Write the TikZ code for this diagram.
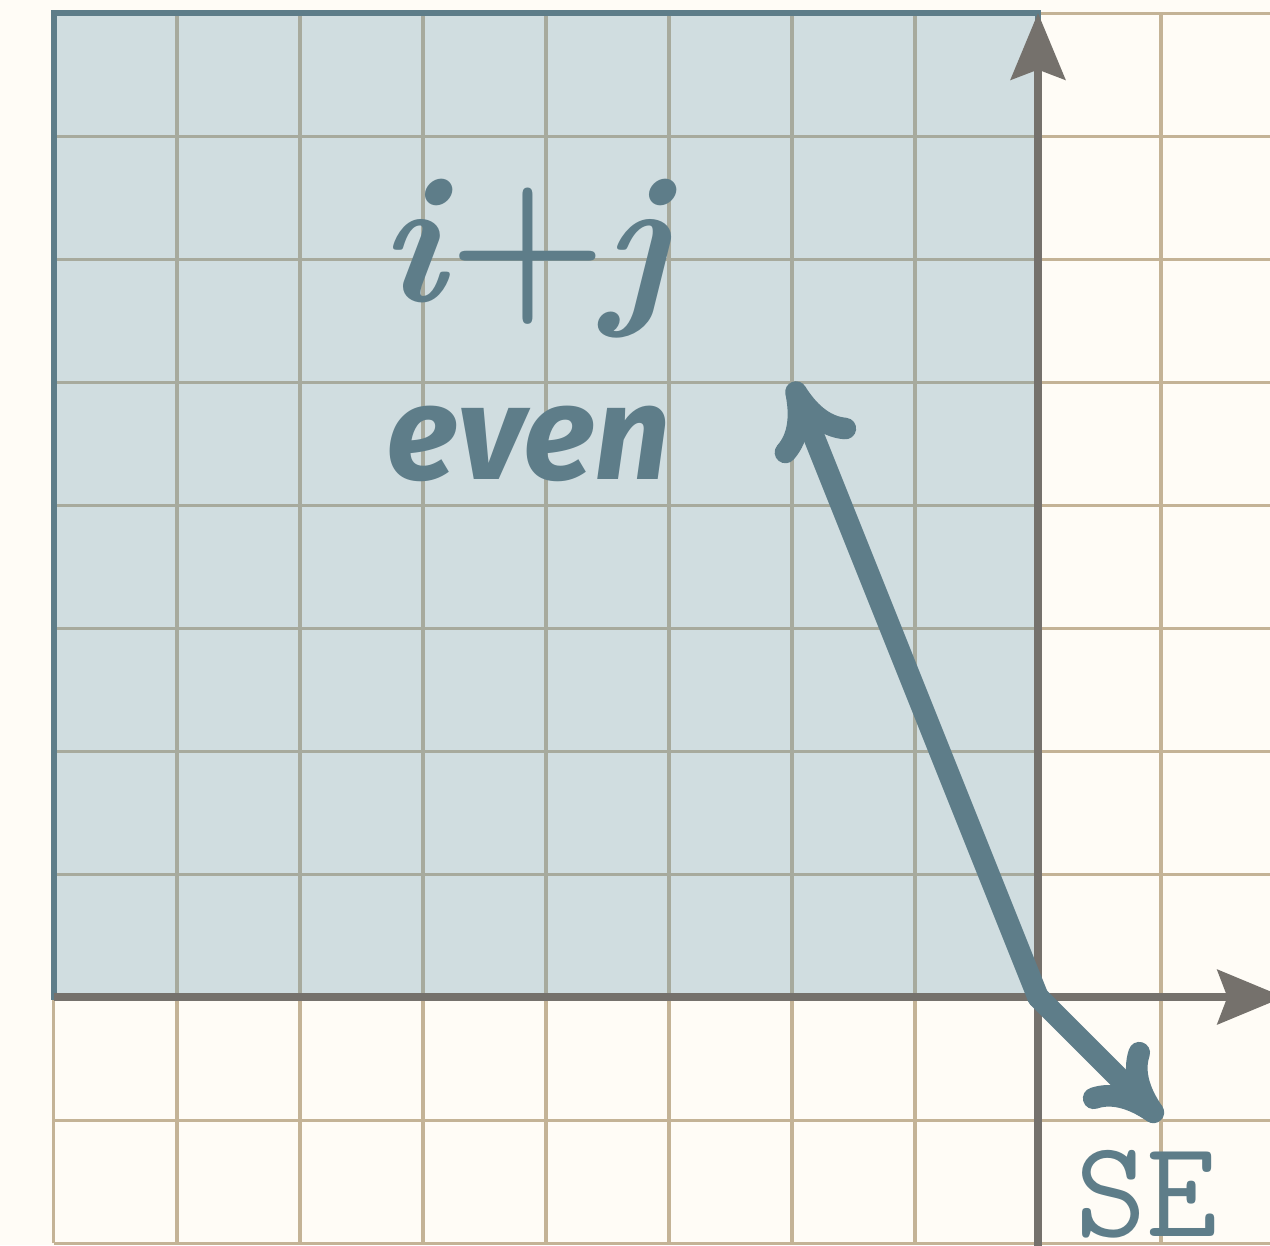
\documentclass[tikz,border=0pt]{standalone}
\usepackage{fontspec}
\usepackage{xcolor}
\usepackage{tikz}
\usetikzlibrary{positioning, calc, arrows.meta}
\newfontfamily\labelfont{Fira Sans}

\definecolor{paper}{HTML}{FFFCF6}
\definecolor{tanline}{HTML}{C4B396}
\definecolor{steel}{HTML}{5E7D89}
\definecolor{axisgray}{HTML}{75716C}
\definecolor{evenfill}{RGB}{100,150,175}

\tikzset{
    gridline/.style={tanline, line width=0.7pt},
    axisline/.style={axisgray, line width=2pt, -{Stealth[length=5.4mm, width=4.4mm, inset=0.8mm]}},
    movearrow/.style={steel, line width=5pt, line cap=round,
        -{Computer Modern Rightarrow[length=6mm, width=7mm, round]}},
}

\begin{document}
\begin{tikzpicture}

        % Page size and background
        \useasboundingbox (-8.439,-2.016) rectangle (1.886,8.106);
        \clip (-8.439,-2.016) rectangle (1.886,8.106);
        \fill[paper] (-8.439,-2.016) rectangle (1.886,8.106);

        % Square grid
        \draw[gridline] (-8,-2) grid (2,8);

        % Shaded region
        \fill[evenfill, fill opacity=0.3] (-8,0) rectangle (0,8);
        \draw[steel, line width=1.4pt] (-8,0) rectangle (0,8);

        % Axes
        \coordinate (O) at (0,0);
        \coordinate (xend) at (2,0);
        \coordinate (yend) at (0,8);
        \draw[axisline] (-8,0) -- (xend);
        \draw[axisline] (0,-2.1) -- (yend);

        % Moves from the origin
        \coordinate (nw) at (-2,5);
        \coordinate (se) at (1,-1);
        \draw[movearrow] (O) -- (nw);
        \draw[movearrow] (O) -- (se);

        % Labels
        \node[steel, font=\rmfamily\fontsize{42}{42}\selectfont\bfseries] (sum) at (-4.18,6.0)
            {\itshape i\upshape\kern1pt+\kern-1pt\itshape j};
        \node[steel, font=\labelfont\fontsize{31}{31}\selectfont\bfseries\itshape] (parity) at (-4.14,4.5) {even};
        \node[steel, font=\ttfamily\fontsize{32}{32}\selectfont] (dir) at (0.88,-1.6) {SE};

    \end{tikzpicture}
\end{document}
